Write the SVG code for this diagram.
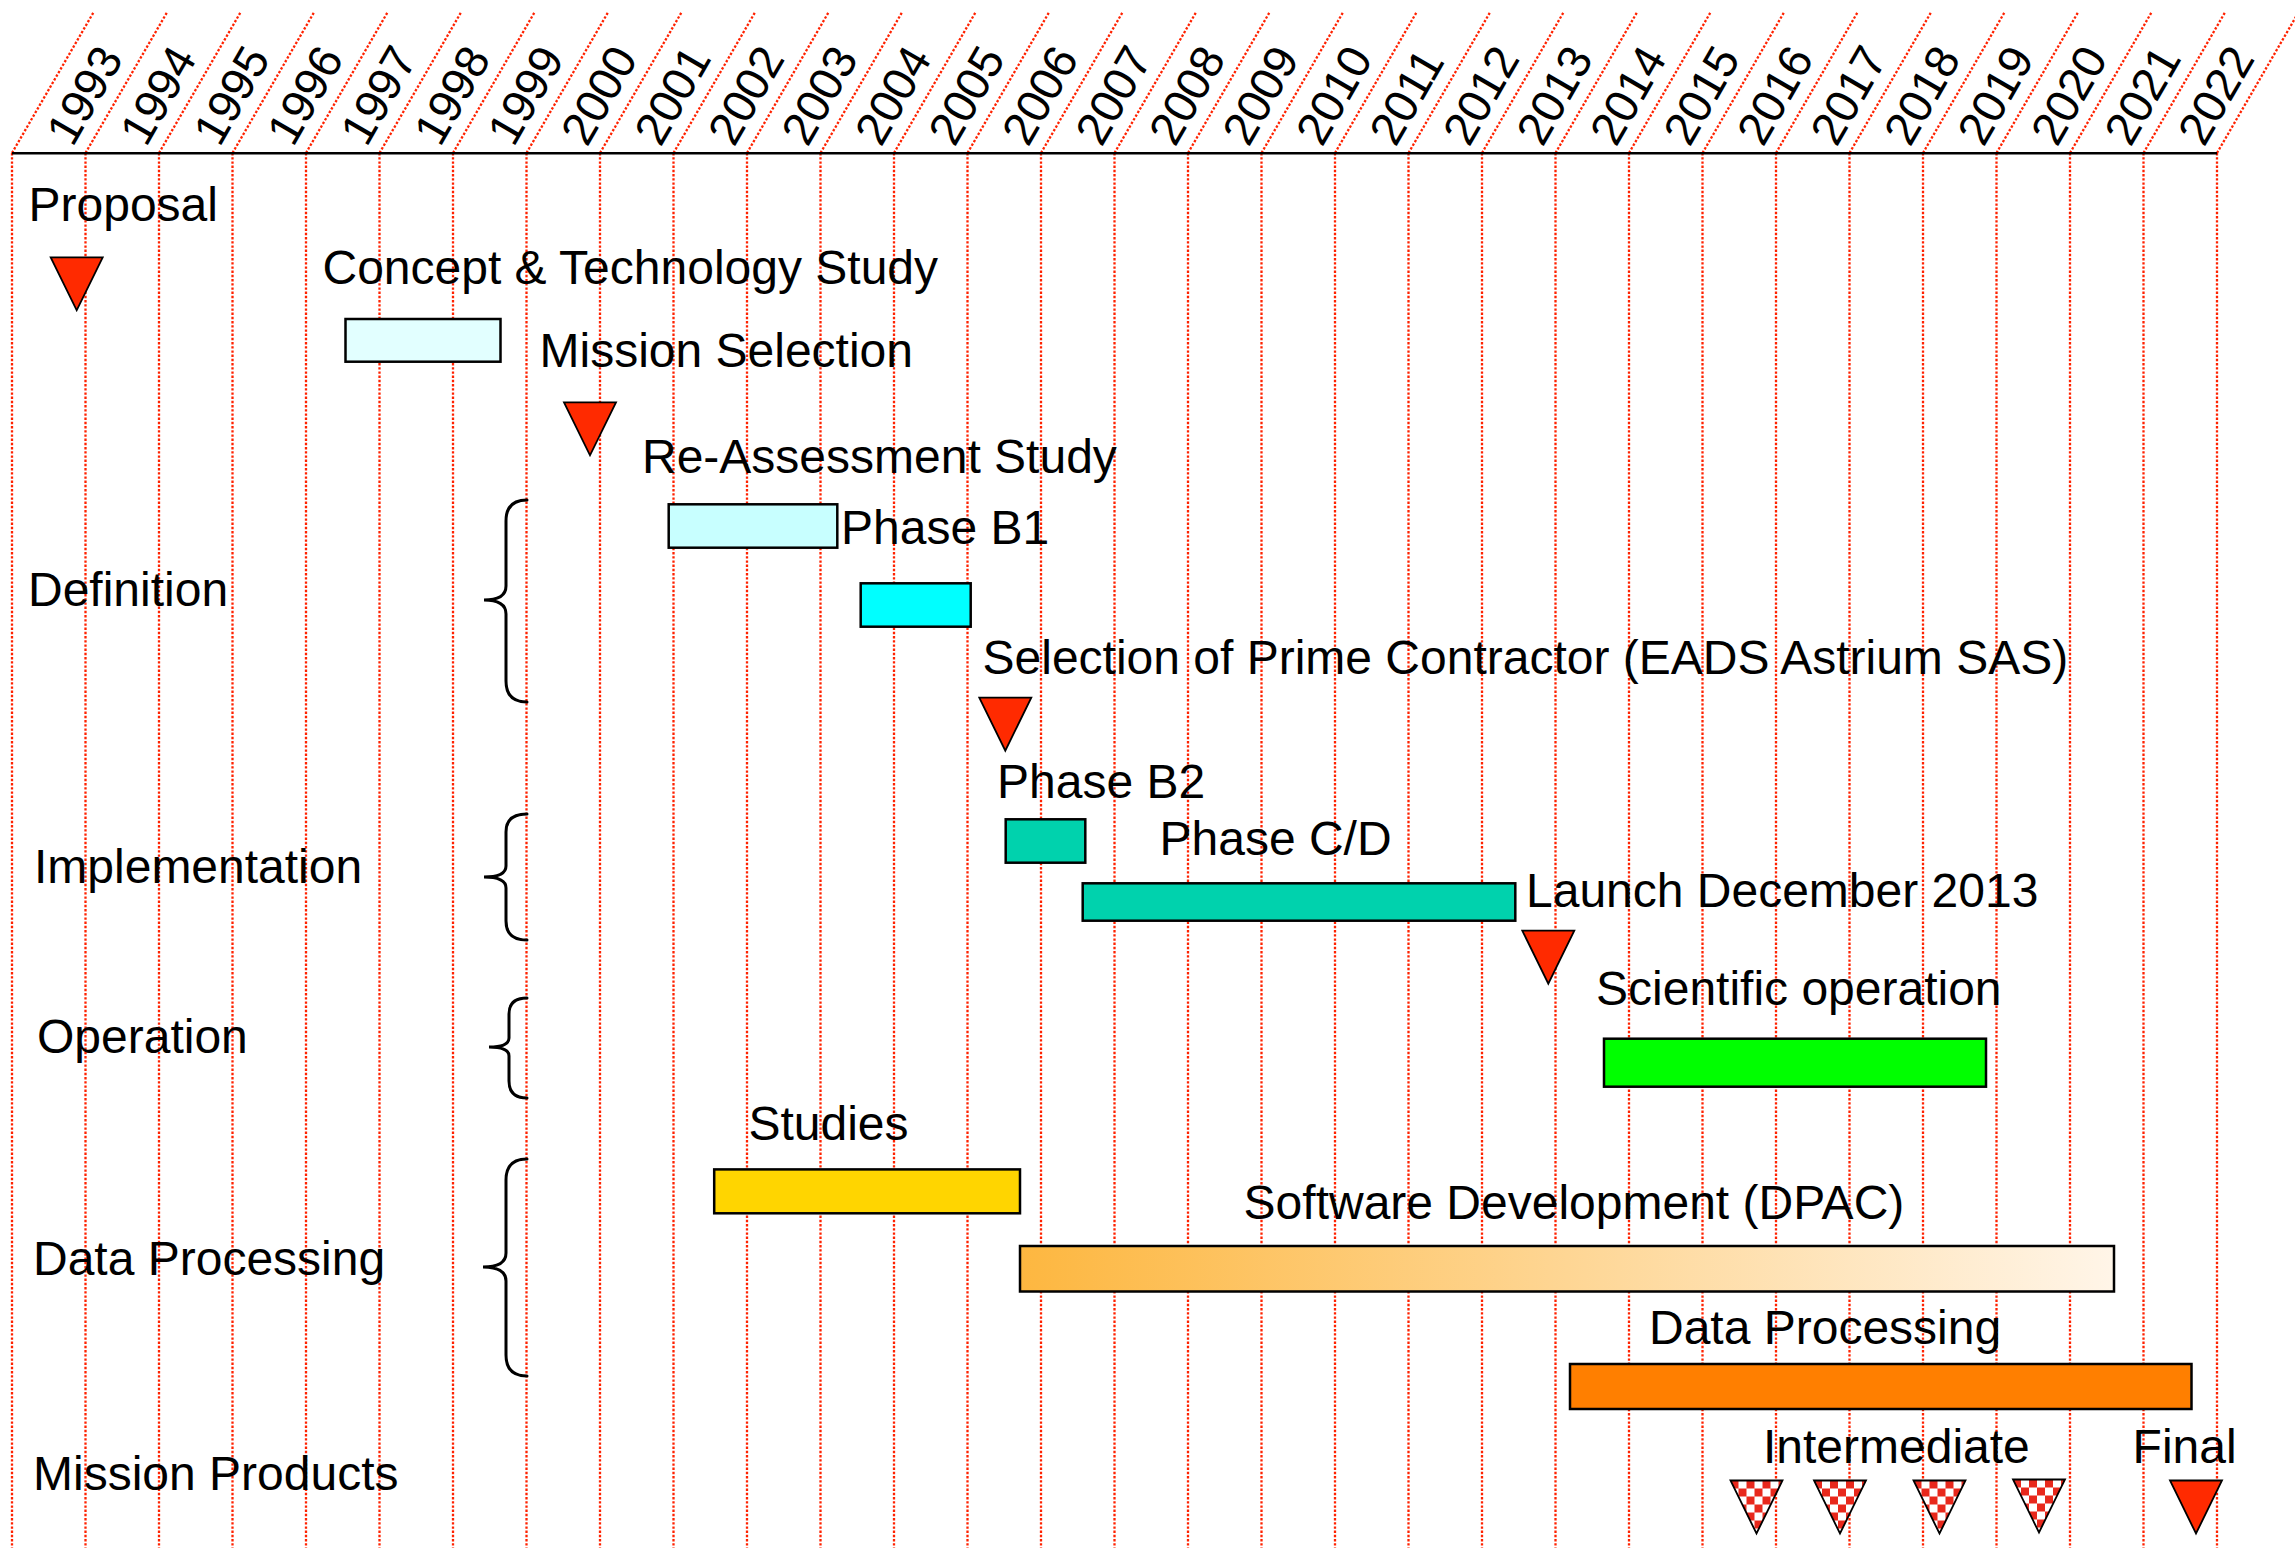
<svg xmlns="http://www.w3.org/2000/svg" width="2295" height="1548" viewBox="0 0 2295 1548">
<style>
text{font-family:"Liberation Sans",Arial,sans-serif;font-size:48px;fill:#000}
.yr{font-size:46.5px}
.grid{stroke:#ff2200;stroke-width:2.3;stroke-dasharray:2.4 1.8;fill:none}
.bar{stroke:#000;stroke-width:2.5}
.tri{stroke:#000;stroke-width:1.8;stroke-linejoin:miter}
.red{fill:#ff2a00}
.chk{fill:url(#checker)}
.brace{fill:none;stroke:#000;stroke-width:3;stroke-linecap:round}
</style>
<defs>
<path id="tri" d="M0,0 L52,0 L26,53 Z"/>
<pattern id="checker" patternUnits="userSpaceOnUse" width="16" height="16">
<rect width="16" height="16" fill="#fff"/>
<rect width="8" height="8" fill="#e8281c"/>
<rect x="8" y="8" width="8" height="8" fill="#e8281c"/>
</pattern>
<linearGradient id="swgrad" x1="0" y1="0" x2="1" y2="0">
<stop offset="0" stop-color="#fdb740"/>
<stop offset="1" stop-color="#fff5e8"/>
</linearGradient>
</defs>
<rect width="2295" height="1548" fill="#fff"/>
<g id="grid">
<path class="grid" d="M12,153V1548M85.5,153V1548M159,153V1548M232.5,153V1548M306,153V1548M379.5,153V1548M453,153V1548M526.5,153V1548M600,153V1548M673.5,153V1548M747,153V1548M820.5,153V1548M894,153V1548M967.5,153V1548M1041,153V1548M1114.5,153V1548M1188,153V1548M1261.5,153V1548M1335,153V1548M1408.5,153V1548M1482,153V1548M1555.5,153V1548M1629,153V1548M1702.5,153V1548M1776,153V1548M1849.5,153V1548M1923,153V1548M1996.5,153V1548M2070,153V1548M2143.5,153V1548M2217,153V1548"/>
<path class="grid" d="M12,153l82,-141.5M85.5,153l82,-141.5M159,153l82,-141.5M232.5,153l82,-141.5M306,153l82,-141.5M379.5,153l82,-141.5M453,153l82,-141.5M526.5,153l82,-141.5M600,153l82,-141.5M673.5,153l82,-141.5M747,153l82,-141.5M820.5,153l82,-141.5M894,153l82,-141.5M967.5,153l82,-141.5M1041,153l82,-141.5M1114.5,153l82,-141.5M1188,153l82,-141.5M1261.5,153l82,-141.5M1335,153l82,-141.5M1408.5,153l82,-141.5M1482,153l82,-141.5M1555.5,153l82,-141.5M1629,153l82,-141.5M1702.5,153l82,-141.5M1776,153l82,-141.5M1849.5,153l82,-141.5M1923,153l82,-141.5M1996.5,153l82,-141.5M2070,153l82,-141.5M2143.5,153l82,-141.5M2217,153l82,-141.5"/>
<line x1="12" y1="153.3" x2="2217" y2="153.3" stroke="#000" stroke-width="2.5"/>
</g>
<g id="years">
<text class="yr" transform="translate(72.5,148) rotate(-60)">1993</text>
<text class="yr" transform="translate(146,148) rotate(-60)">1994</text>
<text class="yr" transform="translate(219.5,148) rotate(-60)">1995</text>
<text class="yr" transform="translate(293,148) rotate(-60)">1996</text>
<text class="yr" transform="translate(366.5,148) rotate(-60)">1997</text>
<text class="yr" transform="translate(440,148) rotate(-60)">1998</text>
<text class="yr" transform="translate(513.5,148) rotate(-60)">1999</text>
<text class="yr" transform="translate(587,148) rotate(-60)">2000</text>
<text class="yr" transform="translate(660.5,148) rotate(-60)">2001</text>
<text class="yr" transform="translate(734,148) rotate(-60)">2002</text>
<text class="yr" transform="translate(807.5,148) rotate(-60)">2003</text>
<text class="yr" transform="translate(881,148) rotate(-60)">2004</text>
<text class="yr" transform="translate(954.5,148) rotate(-60)">2005</text>
<text class="yr" transform="translate(1028,148) rotate(-60)">2006</text>
<text class="yr" transform="translate(1101.5,148) rotate(-60)">2007</text>
<text class="yr" transform="translate(1175,148) rotate(-60)">2008</text>
<text class="yr" transform="translate(1248.5,148) rotate(-60)">2009</text>
<text class="yr" transform="translate(1322,148) rotate(-60)">2010</text>
<text class="yr" transform="translate(1395.5,148) rotate(-60)">2011</text>
<text class="yr" transform="translate(1469,148) rotate(-60)">2012</text>
<text class="yr" transform="translate(1542.5,148) rotate(-60)">2013</text>
<text class="yr" transform="translate(1616,148) rotate(-60)">2014</text>
<text class="yr" transform="translate(1689.5,148) rotate(-60)">2015</text>
<text class="yr" transform="translate(1763,148) rotate(-60)">2016</text>
<text class="yr" transform="translate(1836.5,148) rotate(-60)">2017</text>
<text class="yr" transform="translate(1910,148) rotate(-60)">2018</text>
<text class="yr" transform="translate(1983.5,148) rotate(-60)">2019</text>
<text class="yr" transform="translate(2057,148) rotate(-60)">2020</text>
<text class="yr" transform="translate(2130.5,148) rotate(-60)">2021</text>
<text class="yr" transform="translate(2204,148) rotate(-60)">2022</text>
</g>
<g id="phase-labels">
<text x="28.5" y="220.5">Proposal</text>
<text x="28" y="606">Definition</text>
<text x="34" y="883">Implementation</text>
<text x="37" y="1053">Operation</text>
<text x="33" y="1274.5">Data Processing</text>
<text x="33" y="1490">Mission Products</text>
</g>
<g id="braces">
<path class="brace" d="M527,500 Q506,500 506,521 L506,586 Q506,600 484,600 Q506,600 506,614 L506,681 Q506,702 527,702"/>
<path class="brace" d="M527,814 Q506,814 506,832 L506,866 Q506,877 484,877 Q506,877 506,888 L506,921 Q506,940 527,940"/>
<path class="brace" d="M527,998 Q509,998 509,1014 L509,1038 Q509,1047 489,1047 Q509,1047 509,1056 L509,1081 Q509,1098 527,1098"/>
<path class="brace" d="M527,1159 Q506,1159 506,1180 L506,1253 Q506,1267 483,1267 Q506,1267 506,1281 L506,1355 Q506,1376 527,1376"/>
</g>
<g id="proposal">
<use href="#tri" class="tri red" x="50.7" y="257.3"/>
</g>
<g id="concept-study">
<text x="322.5" y="284">Concept &amp; Technology Study</text>
<rect class="bar" x="345.5" y="319" width="155" height="42.7" fill="#e2ffff"/>
</g>
<g id="mission-selection">
<text x="539.5" y="367">Mission Selection</text>
<use href="#tri" class="tri red" x="564" y="402.3"/>
</g>
<g id="re-assessment">
<text x="642" y="472.5">Re-Assessment Study</text>
<rect class="bar" x="668.7" y="504.3" width="168.6" height="43.4" fill="#c8ffff"/>
</g>
<g id="phase-b1">
<text x="841" y="544">Phase B1</text>
<rect class="bar" x="860.7" y="583.3" width="110" height="43.4" fill="#00ffff"/>
</g>
<g id="prime-contractor">
<text x="982.5" y="673.5">Selection of Prime Contractor (EADS Astrium SAS)</text>
<use href="#tri" class="tri red" x="979.3" y="697.7"/>
</g>
<g id="phase-b2">
<text x="997" y="797.5">Phase B2</text>
<rect class="bar" x="1005.7" y="819.3" width="79.6" height="43.4" fill="#00d2ad"/>
</g>
<g id="phase-cd">
<text x="1159.5" y="855">Phase C/D</text>
<rect class="bar" x="1082.7" y="883.3" width="432.6" height="37.4" fill="#00d2ad"/>
</g>
<g id="launch">
<text x="1526" y="907">Launch December 2013</text>
<use href="#tri" class="tri red" x="1522.3" y="930.7"/>
</g>
<g id="scientific-operation">
<text x="1596" y="1005">Scientific operation</text>
<rect class="bar" x="1604" y="1038.7" width="382" height="48" fill="#00ff00"/>
</g>
<g id="studies">
<text x="748.4" y="1140">Studies</text>
<rect class="bar" x="714.2" y="1169.4" width="305.8" height="43.9" fill="#ffd500"/>
</g>
<g id="software-development">
<text x="1243.6" y="1219">Software Development (DPAC)</text>
<rect class="bar" x="1020" y="1246" width="1094" height="45.5" fill="url(#swgrad)"/>
</g>
<g id="data-processing">
<text x="1649" y="1343.5">Data Processing</text>
<rect class="bar" x="1570" y="1364" width="621.5" height="45" fill="#ff7f00"/>
</g>
<g id="mission-products">
<text x="1763" y="1463">Intermediate</text>
<text x="2132.6" y="1463">Final</text>
<use href="#tri" class="tri chk" x="1730.5" y="1480.5"/>
<use href="#tri" class="tri chk" x="1814" y="1480.5"/>
<use href="#tri" class="tri chk" x="1913.5" y="1480.5"/>
<use href="#tri" class="tri chk" x="2013" y="1479.5"/>
<use href="#tri" class="tri red" x="2170" y="1480.5"/>
</g>
</svg>
